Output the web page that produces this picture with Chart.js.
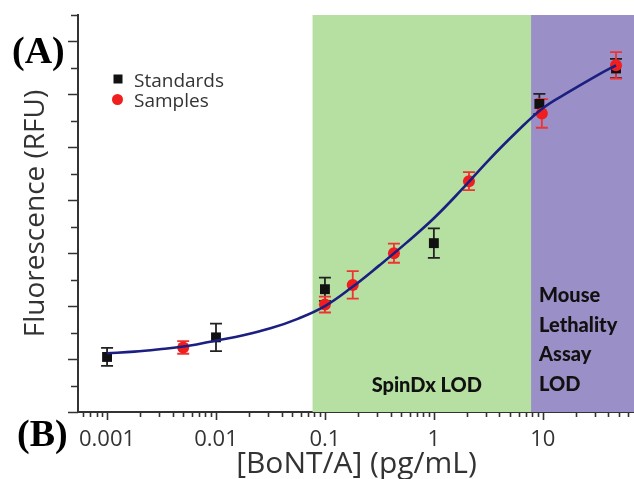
<!DOCTYPE html>
<html>
<head>
<meta charset="utf-8">
<script src="https://cdn.jsdelivr.net/npm/chart.js@4.4.1/dist/chart.umd.min.js"></script>
<style>
  html, body { margin: 0; padding: 0; background: #fff; overflow: hidden; }
  #wrap { position: relative; width: 634px; height: 479px; overflow: hidden; }
  #chart { display: block; width: 642px; height: 479px; }
</style>
</head>
<body>
<div id="wrap"><canvas id="chart" width="642" height="479"></canvas></div>
<script>
// values
const standardsX   = [0.001, 0.01, 0.1, 1, 9.3, 47];
const standardsY   = [1.04, 1.41, 2.32, 3.19, 5.82, 6.49];
const standardsErr = [0.17, 0.26, 0.22, 0.28, 0.19, 0.18];

const samplesX   = [0.005, 0.1, 0.18, 0.43, 2.1, 9.8, 47];
const samplesY   = [1.22, 2.03, 2.40, 3.00, 4.36, 5.64, 6.55];
const samplesErr = [0.12, 0.15, 0.26, 0.18, 0.17, 0.27, 0.25];

// fitted curve, every quarter decade
const curveX = [0.001, 0.00178, 0.00316, 0.00562, 0.01, 0.0178, 0.0316, 0.0562, 0.1, 0.178, 0.316, 0.562,
                1, 1.78, 3.16, 5.62, 10, 17.8, 31.6, 47];
const curveY = [1.11, 1.14, 1.19, 1.25, 1.35, 1.45, 1.58, 1.76, 2.00, 2.36, 2.77, 3.20,
                3.66, 4.19, 4.75, 5.27, 5.74, 6.06, 6.36, 6.55];

const spinDxBand = [0.077, 7.8];
const mouseBand  = [7.8, 1000];

const xTickValues = [0.001, 0.01, 0.1, 1, 10];
const xTickLabels = ['0.001', '0.01', '0.1', '1', '10'];
const yMax = 7.5;
const yTickStep = 0.5;

const pts = (xs, ys) => xs.map((x, i) => ({ x, y: ys[i] }));

const bandsPlugin = {
  id: 'bands',
  beforeDatasetsDraw(chart) {
    const { ctx, chartArea: a, scales: { x } } = chart;
    const band = (r, color) => {
      const x0 = Math.max(x.getPixelForValue(r[0]), a.left);
      const x1 = Math.min(x.getPixelForValue(r[1]), a.right);
      ctx.fillStyle = color;
      ctx.fillRect(x0, a.top, x1 - x0, a.bottom - a.top);
    };
    ctx.save();
    band(spinDxBand, '#b6e0a2');
    band(mouseBand, '#9b8fc7');
    ctx.restore();
  }
};

const errorBarsPlugin = {
  id: 'errorBars',
  beforeDatasetsDraw(chart) {
    const { ctx, scales: { x, y } } = chart;
    const draw = (xs, ys, es, color) => {
      ctx.strokeStyle = color;
      ctx.lineWidth = 1.8;
      xs.forEach((v, i) => {
        const px = x.getPixelForValue(v);
        const top = y.getPixelForValue(ys[i] + es[i]);
        const bot = y.getPixelForValue(ys[i] - es[i]);
        ctx.beginPath();
        ctx.moveTo(px, top); ctx.lineTo(px, bot);
        ctx.moveTo(px - 6, top); ctx.lineTo(px + 6, top);
        ctx.moveTo(px - 6, bot); ctx.lineTo(px + 6, bot);
        ctx.stroke();
      });
    };
    ctx.save();
    draw(standardsX, standardsY, standardsErr, '#222');
    draw(samplesX, samplesY, samplesErr, '#ee3333');
    ctx.restore();
  }
};

const decorPlugin = {
  id: 'decor',
  afterDraw(chart) {
    const { ctx, chartArea: a, scales: { x, y } } = chart;
    ctx.save();
    // tick marks
    ctx.strokeStyle = '#333';
    ctx.lineWidth = 1.6;
    ctx.beginPath();
    for (let v = 0; v <= yMax + 1e-9; v += yTickStep) {
      const py = Math.round(y.getPixelForValue(v)) + 0.5;
      const len = Math.abs(v - Math.round(v)) < 1e-9 ? 10 : 7;
      ctx.moveTo(a.left - len, py); ctx.lineTo(a.left, py);
    }
    x.ticks.forEach(t => {
      const px = Math.round(x.getPixelForValue(t.value)) + 0.5;
      const len = t.major ? 8 : 5;
      ctx.moveTo(px, a.bottom); ctx.lineTo(px, a.bottom + len);
    });
    ctx.stroke();

    // legend
    ctx.fillStyle = '#111';
    ctx.fillRect(113.5, 74.5, 9, 9);
    ctx.fillStyle = '#f01e1e';
    ctx.beginPath(); ctx.arc(117.5, 99.5, 5.5, 0, Math.PI * 2); ctx.fill();
    ctx.fillStyle = '#333';
    ctx.font = '19px "Open Sans"';
    ctx.textBaseline = 'alphabetic';
    ctx.textAlign = 'left';
    ctx.fillText('Standards', 134, 87);
    ctx.fillText('Samples', 134, 107);

    // band labels
    ctx.fillStyle = '#111';
    ctx.font = '900 20px Lato';
    ctx.textAlign = 'center';
    const g0 = x.getPixelForValue(spinDxBand[0]), g1 = x.getPixelForValue(spinDxBand[1]);
    ctx.fillText('SpinDx LOD', (g0 + g1) / 2 + 5, 392);
    ctx.textAlign = 'left';
    const m0 = x.getPixelForValue(mouseBand[0]) + 8;
    ['Mouse', 'Lethality', 'Assay', 'LOD'].forEach((s, i) => ctx.fillText(s, m0, 302 + i * 29.5));

    // panel letters
    ctx.fillStyle = '#000';
    ctx.font = 'bold 38px "Liberation Serif"';
    ctx.fillText('(A)', 12, 63);
    ctx.fillText('(B)', 17, 446);
    ctx.restore();
  }
};

new Chart(document.getElementById('chart'), {
  data: {
    datasets: [
      {
        type: 'line', label: 'Fit', data: pts(curveX, curveY),
        borderColor: '#1b1f80', borderWidth: 2.6, pointRadius: 0,
        tension: 0.4, fill: false
      },
      {
        type: 'scatter', label: 'Samples', data: pts(samplesX, samplesY),
        pointStyle: 'circle', pointRadius: 6, backgroundColor: '#f01e1e', borderWidth: 0
      },
      {
        type: 'scatter', label: 'Standards', data: pts(standardsX, standardsY),
        pointStyle: 'rect', pointRadius: 7, backgroundColor: '#111', borderWidth: 0
      }
    ]
  },
  options: {
    responsive: false,
    animation: false,
    devicePixelRatio: 1,
    layout: { padding: { top: 15, left: 0, right: 0, bottom: 0 } },
    plugins: { legend: { display: false }, tooltip: { enabled: false } },
    scales: {
      x: {
        type: 'logarithmic',
        min: 0.000541, max: 70.2,
        grid: { display: false },
        border: { display: true, color: '#333', width: 2 },
        afterBuildTicks(s) {
          const t = [];
          for (let e = -4; e <= 2; e++) {
            const d = Math.pow(10, e);
            for (let m = 1; m <= 9; m++) {
              const v = m * d;
              if (v >= s.min && v <= s.max) t.push({ value: v, major: m === 1 });
            }
          }
          s.ticks = t;
        },
        afterFit(s) { s.height = 67; },
        ticks: {
          autoSkip: false, maxRotation: 0, padding: 7,
          color: '#333', font: { family: 'Open Sans', size: 22 },
          callback(v) {
            const i = xTickValues.findIndex(t => Math.abs(t - v) / t < 1e-6);
            return i >= 0 ? xTickLabels[i] : '';
          }
        },
        title: {
          display: true, text: '[BoNT/A] (pg/mL)', color: '#333',
          font: { family: 'Open Sans', size: 30, lineHeight: 1 },
          padding: { top: 0, bottom: 0 }
        }
      },
      y: {
        type: 'linear', min: 0, max: yMax,
        grid: { display: false },
        border: { display: true, color: '#333', width: 2 },
        ticks: { display: false },
        afterFit(s) { s.width = 78; },
        title: {
          display: true, text: 'Fluorescence (RFU)', color: '#333',
          font: { family: 'Open Sans', size: 28 },
          padding: { top: 19, bottom: 0 }
        }
      }
    }
  },
  plugins: [bandsPlugin, errorBarsPlugin, decorPlugin]
});
</script>
</body>
</html>
